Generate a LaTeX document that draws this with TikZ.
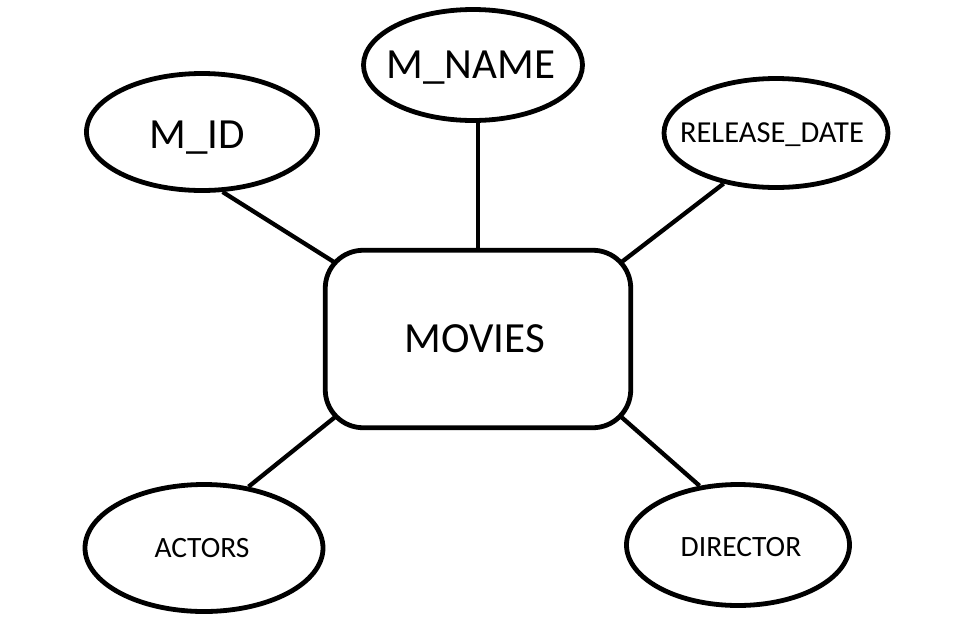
\documentclass[tikz,border=0pt]{standalone}
\usepackage{fontspec}
\setmainfont{Carlito}
\usetikzlibrary{shapes.geometric,backgrounds,calc}
\newcommand{\zerobox}[1]{\makebox[0pt]{#1}}
\tikzset{
  attr/.style={ellipse, draw=black, line width=4.8pt, fill=white, inner sep=0pt, text depth=0pt},
  entity/.style={rectangle, rounded corners=38pt, draw=black, line width=4.8pt, fill=white, inner sep=0pt},
  link/.style={draw=black, line width=4.3pt},
  bigtxt/.style={font=\fontsize{43}{48}\selectfont},
  midtxt/.style={font=\fontsize{30.5}{35}\selectfont},
  smltxt/.style={font=\fontsize{29.5}{34}\selectfont}
}
\begin{document}
\begin{tikzpicture}[x=1pt,y=-1pt]
\useasboundingbox (0,0) rectangle (961,630);
\node[entity, bigtxt, minimum width=305.5pt, minimum height=177.5pt] (movies) at (478,339) {\zerobox{\raisebox{-2pt}{\hspace*{-6pt}MOVIES}}};
\node[attr, bigtxt, minimum width=219pt, minimum height=111pt] (mname) at (473,65) {\zerobox{\hspace*{-4pt}M\_NAME}};
\node[attr, bigtxt, minimum width=231pt, minimum height=117pt] (mid) at (202,132) {\zerobox{\raisebox{-5pt}{\hspace*{-10pt}M\_ID}}};
\node[attr, midtxt, minimum width=224pt, minimum height=109pt] (rdate) at (776,133) {\zerobox{\hspace*{-8pt}RELEASE\_DATE}};
\node[attr, smltxt, minimum width=238pt, minimum height=127pt] (actors) at (204,548) {\zerobox{\hspace*{-4pt}ACTORS}};
\node[attr, smltxt, minimum width=223pt, minimum height=121pt] (director) at (738,545) {\zerobox{\raisebox{-3pt}{\hspace*{6pt}DIRECTOR}}};
\begin{scope}[on background layer]
\draw[link] (movies.north) -- (movies.north |- mname.south);
\draw[link] (mid.-71) -- ($(movies.north west)+(22,21)$);
\draw[link] (rdate.224.5) -- ($(movies.north east)+(-23,23)$);
\draw[link] (actors.54) -- ($(movies.south west)+(22,-21)$);
\draw[link] (director.123) -- ($(movies.south east)+(-23,-23)$);
\end{scope}
\end{tikzpicture}
\end{document}
